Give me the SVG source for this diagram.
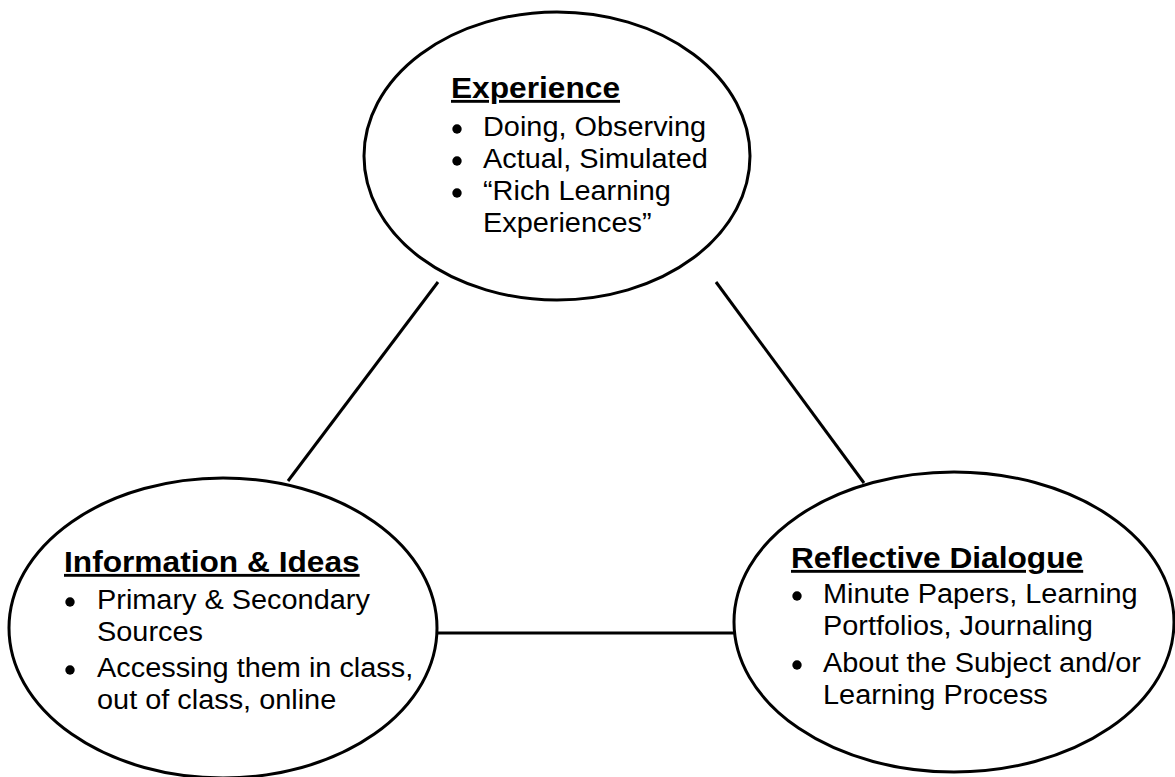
<svg xmlns="http://www.w3.org/2000/svg" width="1175" height="777" viewBox="0 0 1175 777">
<style>
.node{fill:#fff;stroke:#000;stroke-width:3}
.conn{stroke:#000;stroke-width:3;fill:none}
.hd{font-family:"Liberation Sans",Arial,sans-serif;font-weight:bold;font-size:28.8px;text-decoration:underline;fill:#000}
.tx{font-family:"Liberation Sans",Arial,sans-serif;font-size:27px;fill:#000}
.dot{fill:#000}
</style>
<rect width="1175" height="777" fill="#fff"/>
<g id="connectors">
<line class="conn" x1="438" y1="282" x2="288" y2="481"/>
<line class="conn" x1="716" y1="282" x2="864" y2="483"/>
<line class="conn" x1="436" y1="633" x2="734" y2="633"/>
</g>
<g id="experience">
<ellipse class="node" cx="557" cy="156" rx="193" ry="144"/>
<text class="hd" transform="translate(451,98) scale(1.1,1)">Experience</text>
<circle class="dot" cx="457" cy="129" r="4.7"/>
<circle class="dot" cx="457" cy="161" r="4.7"/>
<circle class="dot" cx="457" cy="193" r="4.7"/>
<text class="tx" transform="translate(483,136) scale(1.07,1)">Doing, Observing</text>
<text class="tx" transform="translate(483,168) scale(1.07,1)">Actual, Simulated</text>
<text class="tx" transform="translate(483,200) scale(1.07,1)">“Rich Learning</text>
<text class="tx" transform="translate(483,231.5) scale(1.07,1)">Experiences”</text>
</g>
<g id="information">
<ellipse class="node" cx="223" cy="628" rx="214" ry="150"/>
<text class="hd" transform="translate(64,572) scale(1.1,1)">Information &amp; Ideas</text>
<circle class="dot" cx="70" cy="602" r="4.7"/>
<circle class="dot" cx="70" cy="670" r="4.7"/>
<text class="tx" transform="translate(97,609) scale(1.07,1)">Primary &amp; Secondary</text>
<text class="tx" transform="translate(97,641) scale(1.07,1)">Sources</text>
<text class="tx" transform="translate(97,677) scale(1.07,1)">Accessing them in class,</text>
<text class="tx" transform="translate(97,709) scale(1.07,1)">out of class, online</text>
</g>
<g id="reflective">
<ellipse class="node" cx="954" cy="622" rx="220" ry="150"/>
<text class="hd" transform="translate(791,568) scale(1.1,1)">Reflective Dialogue</text>
<circle class="dot" cx="797" cy="596" r="4.7"/>
<circle class="dot" cx="797" cy="665" r="4.7"/>
<text class="tx" transform="translate(823,603) scale(1.07,1)">Minute Papers, Learning</text>
<text class="tx" transform="translate(823,635) scale(1.07,1)">Portfolios, Journaling</text>
<text class="tx" transform="translate(823,672) scale(1.07,1)">About the Subject and/or</text>
<text class="tx" transform="translate(823,704) scale(1.07,1)">Learning Process</text>
</g>
</svg>
